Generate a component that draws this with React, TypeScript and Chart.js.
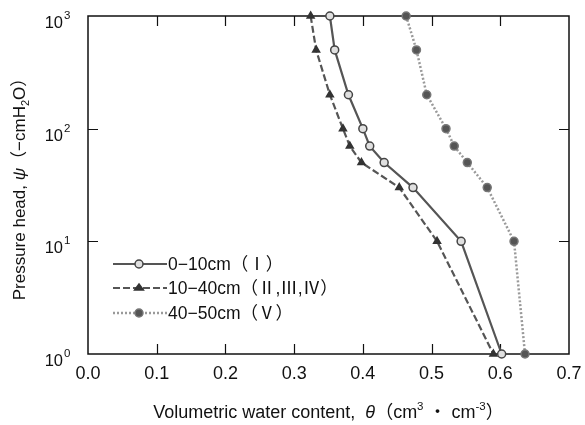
import React, { useEffect, useRef } from 'react';
import { Chart, registerables } from 'chart.js';

Chart.register(...registerables);

// ---- data ----
const pressureHead = [1000, 500, 200, 100, 70, 50, 30, 10, 1];
const theta0to10 = [0.352, 0.359, 0.379, 0.4, 0.41, 0.431, 0.473, 0.543, 0.602];
const theta10to40 = [0.324, 0.332, 0.352, 0.371, 0.381, 0.398, 0.453, 0.508, 0.59];
const theta40to50 = [0.463, 0.478, 0.493, 0.521, 0.533, 0.552, 0.581, 0.62, 0.636];
const seriesLabels = ['0−10cm（Ⅰ）', '10−40cm（Ⅱ,Ⅲ,Ⅳ）', '40−50cm（Ⅴ）'];
const xTicks = [0, 0.1, 0.2, 0.3, 0.4, 0.5, 0.6, 0.7];
const yTicks = [1, 10, 100, 1000];
const yTickExponents = ['0', '1', '2', '3'];

const FONT = '"Liberation Sans", Arial, "Noto Sans CJK JP", sans-serif';

type Part = { text: string; size: number; dy?: number; italic?: boolean };

function partFont(p: Part) {
  return `${p.italic ? 'italic ' : ''}${p.size}px ${FONT}`;
}

function drawParts(ctx: CanvasRenderingContext2D, parts: Part[], x: number, y: number, align: 'left' | 'center' | 'right') {
  let total = 0;
  const widths = parts.map((p) => {
    ctx.font = partFont(p);
    const w = ctx.measureText(p.text).width;
    total += w;
    return w;
  });
  let cx = align === 'left' ? x : align === 'center' ? x - total / 2 : x - total;
  ctx.textAlign = 'left';
  ctx.textBaseline = 'alphabetic';
  parts.forEach((p, i) => {
    ctx.font = partFont(p);
    ctx.fillText(p.text, cx, y + (p.dy || 0));
    cx += widths[i];
  });
}

type Style = {
  color: string;
  width: number;
  dash: number[];
  point: 'circle' | 'triangle';
  pointFill: string;
  pointBorder: string;
};

const styles: Style[] = [
  { color: '#555', width: 2.2, dash: [], point: 'circle', pointFill: '#e0e0e0', pointBorder: '#444' },
  { color: '#555', width: 2.2, dash: [7, 3], point: 'triangle', pointFill: '#333', pointBorder: '#333' },
  { color: '#9a9a9a', width: 2.5, dash: [2, 2], point: 'circle', pointFill: '#555', pointBorder: '#777' },
];

function drawMarker(ctx: CanvasRenderingContext2D, s: Style, x: number, y: number, r: number) {
  ctx.save();
  ctx.setLineDash([]);
  ctx.fillStyle = s.pointFill;
  ctx.strokeStyle = s.pointBorder;
  ctx.lineWidth = 1.5;
  ctx.beginPath();
  if (s.point === 'circle') {
    ctx.arc(x, y, r, 0, Math.PI * 2);
  } else {
    const h = r * 1.5;
    ctx.moveTo(x, y - h * 0.66);
    ctx.lineTo(x + r * 1.1, y + h * 0.34);
    ctx.lineTo(x - r * 1.1, y + h * 0.34);
    ctx.closePath();
  }
  ctx.fill();
  ctx.stroke();
  ctx.restore();
}

const framePlugin = {
  id: 'frameAndLabels',
  beforeDatasetsDraw(chart: any) {
    const { ctx, chartArea: a, scales } = chart;
    const x = scales.x;
    const y = scales.y;
    ctx.save();
    ctx.strokeStyle = '#111';
    ctx.lineWidth = 1.5;
    ctx.strokeRect(a.left, a.top, a.right - a.left, a.bottom - a.top);
    ctx.lineWidth = 1.2;
    ctx.beginPath();
    xTicks.slice(1, -1).forEach((v) => {
      const px = Math.round(x.getPixelForValue(v)) + 0.5;
      ctx.moveTo(px, a.bottom);
      ctx.lineTo(px, a.bottom - 10);
      ctx.moveTo(px, a.top);
      ctx.lineTo(px, a.top + 10);
    });
    yTicks.slice(1, -1).forEach((v) => {
      const py = Math.round(y.getPixelForValue(v)) + 0.5;
      ctx.moveTo(a.left, py);
      ctx.lineTo(a.left + 10, py);
      ctx.moveTo(a.right, py);
      ctx.lineTo(a.right - 10, py);
    });
    ctx.stroke();
    ctx.restore();
  },
  afterDraw(chart: any) {
    const { ctx, chartArea: a, scales } = chart;
    const x = scales.x;
    const y = scales.y;
    ctx.save();
    ctx.fillStyle = '#111';
    // x tick labels
    ctx.font = `18px ${FONT}`;
    ctx.textAlign = 'center';
    ctx.textBaseline = 'alphabetic';
    xTicks.forEach((v) => {
      ctx.fillText(v.toFixed(1), x.getPixelForValue(v), a.bottom + 25);
    });
    // y tick labels
    yTicks.forEach((v, i) => {
      const py = y.getPixelForValue(v);
      ctx.font = `16.5px ${FONT}`;
      ctx.textAlign = 'right';
      ctx.fillText('10', 63, py + 12);
      ctx.font = `11.5px ${FONT}`;
      ctx.textAlign = 'left';
      ctx.fillText(yTickExponents[i], 64, py + 3);
    });
    // x title
    ctx.fillStyle = '#111';
    drawParts(
      ctx,
      [
        { text: 'Volumetric water content,  ', size: 18 },
        { text: 'θ', size: 18, italic: true },
        { text: '（cm', size: 18 },
        { text: '3', size: 11.5, dy: -8 },
        { text: ' ・ cm', size: 18 },
        { text: '-3', size: 11.5, dy: -8 },
        { text: '）', size: 18 },
      ],
      (a.left + a.right) / 2,
      418,
      'center'
    );
    // y title
    ctx.save();
    ctx.translate(25, (a.top + a.bottom) / 2);
    ctx.rotate(-Math.PI / 2);
    drawParts(
      ctx,
      [
        { text: 'Pressure head, ', size: 17 },
        { text: 'ψ', size: 17, italic: true },
        { text: '（−cmH', size: 17 },
        { text: '2', size: 11, dy: 4 },
        { text: 'O）', size: 17 },
      ],
      0,
      0,
      'center'
    );
    ctx.restore();
    // legend
    const rows = [264, 288, 313];
    rows.forEach((ry, i) => {
      const s = styles[i];
      ctx.save();
      ctx.strokeStyle = s.color;
      ctx.lineWidth = s.width;
      ctx.setLineDash(s.dash);
      ctx.beginPath();
      ctx.moveTo(113, ry);
      ctx.lineTo(167, ry);
      ctx.stroke();
      ctx.restore();
      drawMarker(ctx, s, 139, ry, 4);
      ctx.fillStyle = '#111';
      ctx.font = `17.5px ${FONT}`;
      ctx.textAlign = 'left';
      ctx.textBaseline = 'middle';
      ctx.fillText(seriesLabels[i], 168, ry + 1);
    });
    ctx.restore();
  },
};

export default function App() {
  const ref = useRef<HTMLCanvasElement | null>(null);
  useEffect(() => {
    if (!ref.current) return;
    const series = [theta0to10, theta10to40, theta40to50];
    const chart = new Chart(ref.current, {
      type: 'scatter',
      data: {
        datasets: series.map((th, i) => ({
          label: seriesLabels[i],
          data: pressureHead.map((p, j) => ({ x: th[j], y: p })),
          showLine: true,
          borderColor: styles[i].color,
          borderWidth: styles[i].width,
          borderDash: styles[i].dash,
          pointStyle: styles[i].point,
          pointRadius: 4,
          pointBorderWidth: 1.5,
          pointBackgroundColor: styles[i].pointFill,
          pointBorderColor: styles[i].pointBorder,
          clip: false as any,
          tension: 0,
        })),
      },
      options: {
        animation: false,
        responsive: false,
        layout: { padding: { left: 88, right: 16, top: 16, bottom: 71 } },
        plugins: { legend: { display: false }, tooltip: { enabled: false } },
        scales: {
          x: { type: 'linear', min: 0, max: 0.7, display: false },
          y: { type: 'logarithmic', min: 1, max: 1000, display: false },
        },
      },
      plugins: [framePlugin],
    });
    return () => chart.destroy();
  }, []);
  return (
    <div style={{ position: 'absolute', left: 0, top: 0, width: 585, height: 425, background: '#fff' }}>
      <canvas ref={ref} width={585} height={425} />
    </div>
  );
}
